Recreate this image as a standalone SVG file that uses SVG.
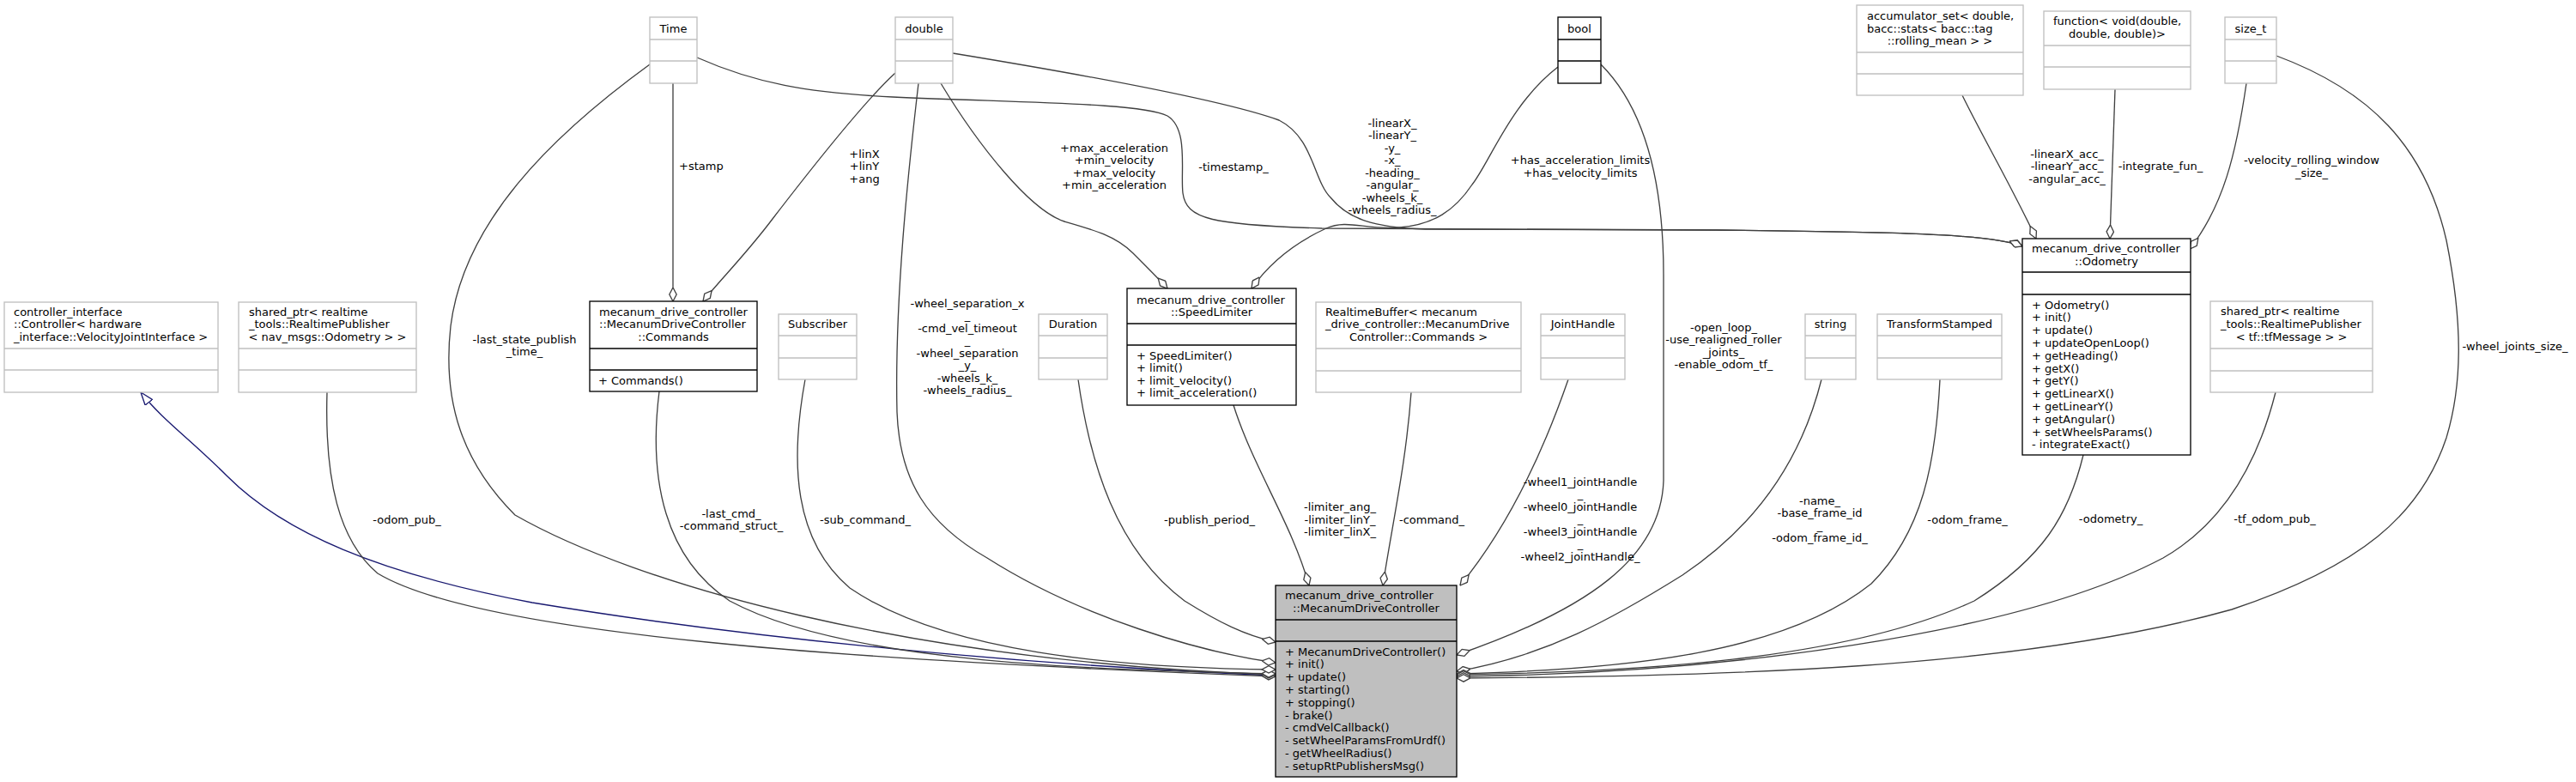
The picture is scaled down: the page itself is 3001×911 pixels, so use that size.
<svg xmlns="http://www.w3.org/2000/svg" width="3001" height="911" viewBox="0 0 3001 911">
<style>
text{font-family:"DejaVu Sans","Liberation Sans",sans-serif;font-size:13px;fill:#000}
.m{text-anchor:middle}
.g{fill:#fff;stroke:#bfbfbf;stroke-width:1.33}
.b{fill:#fff;stroke:#000;stroke-width:1.33}
.mn{fill:#bfbfbf;stroke:#000;stroke-width:1.33}
.lg{stroke:#bfbfbf;stroke-width:1.33}
.lb{stroke:#000;stroke-width:1.33}
.e{fill:none;stroke:#404040;stroke-width:1.33}
.i{fill:none;stroke:#191970;stroke-width:1.33}
</style>
<defs>
<marker id="dia" viewBox="0 0 17 10" refX="16.5" refY="5" markerWidth="17" markerHeight="10" markerUnits="userSpaceOnUse" orient="auto"><path d="M0.5,5 L8.5,0.8 L16.5,5 L8.5,9.2 Z" fill="#fff" stroke="#404040" stroke-width="1.33"/></marker>
<marker id="tri" viewBox="0 0 16 12" refX="15.5" refY="6" markerWidth="16" markerHeight="12" markerUnits="userSpaceOnUse" orient="auto"><path d="M0.5,0.7 L15.5,6 L0.5,11.3 Z" fill="#fff" stroke="#191970" stroke-width="1.33"/></marker>
</defs>
<rect width="3001" height="911" fill="#fff"/>

<g id="connectors">
<path class="i" marker-end="url(#tri)" d="M1486,787 C1200,775 880,745 620,702 C440,668 330,620 265,555 C220,510 190,490 164,457"/>
<path class="e" marker-end="url(#dia)" d="M381,457 C378,560 395,630 440,668 C560,740 1000,770 1486,788"/>
<path class="e" marker-end="url(#dia)" d="M757,75 C640,160 540,260 525,380 C515,470 540,540 600,600 C740,680 1050,770 1486,786"/>
<path class="e" marker-end="url(#dia)" d="M784,97 L784,351"/>
<path class="e" marker-end="url(#dia)" d="M812,67 C880,97 940,108 1040,113 C1200,120 1330,120 1360,135 C1385,150 1375,200 1378,225 C1382,255 1410,262 1540,266 L2000,268 C2200,270 2320,272 2356,287"/>
<path class="e" marker-end="url(#dia)" d="M1043,85 C1010,115 950,190 900,255 C870,295 840,325 819,351"/>
<path class="e" marker-end="url(#dia)" d="M1070,97 C1058,200 1042,350 1045,480 C1048,560 1080,610 1150,650 C1260,720 1400,760 1486,772"/>
<path class="e" marker-end="url(#dia)" d="M1096,97 C1140,170 1200,245 1240,258 C1275,268 1300,275 1320,295 C1340,315 1350,325 1360,336"/>
<path class="e" marker-end="url(#dia)" d="M1110,62 C1250,85 1420,115 1490,140 C1530,160 1530,210 1550,230 C1570,255 1600,265 1660,267 L2000,268 C2200,270 2320,272 2356,287"/>
<path class="e" marker-end="url(#dia)" d="M1815,78 C1760,120 1735,190 1715,215 C1695,245 1670,262 1630,265 C1590,268 1570,255 1545,266 C1510,282 1480,305 1458,336"/>
<path class="e" marker-end="url(#dia)" d="M1865,75 C1920,130 1938,220 1938,320 L1938,560 C1935,650 1850,710 1697,763"/>
<path class="e" marker-end="url(#dia)" d="M768,456 C755,560 775,650 850,700 C980,770 1250,780 1486,785"/>
<path class="e" marker-end="url(#dia)" d="M938,442 C920,540 925,630 990,685 C1100,760 1300,778 1486,780"/>
<path class="e" marker-end="url(#dia)" d="M1256,442 C1270,540 1300,640 1380,700 C1420,725 1450,740 1486,748"/>
<path class="e" marker-end="url(#dia)" d="M1437,472 C1460,545 1505,610 1525,682"/>
<path class="e" marker-end="url(#dia)" d="M1644,457 C1638,540 1622,610 1611,682"/>
<path class="e" marker-end="url(#dia)" d="M1827,442 C1800,520 1760,610 1701,682"/>
<path class="e" marker-end="url(#dia)" d="M2122,442 C2100,530 2050,610 1960,670 C1880,720 1800,765 1697,782"/>
<path class="e" marker-end="url(#dia)" d="M2260,442 C2255,540 2240,620 2180,680 C2080,760 1900,780 1697,785"/>
<path class="e" marker-end="url(#dia)" d="M2427,530 C2410,600 2380,650 2300,700 C2150,770 1900,783 1697,786"/>
<path class="e" marker-end="url(#dia)" d="M2651,457 C2630,540 2590,610 2520,650 C2350,740 2000,785 1697,788"/>
<path class="e" marker-end="url(#dia)" d="M2652,65 C2760,105 2825,170 2850,280 C2870,380 2868,450 2850,510 C2820,600 2750,660 2600,710 C2350,780 2000,788 1697,790"/>
<path class="e" marker-end="url(#dia)" d="M2617,97 C2605,180 2590,240 2551,290"/>
<path class="e" marker-end="url(#dia)" d="M2286,111 C2310,160 2345,220 2372,278"/>
<path class="e" marker-end="url(#dia)" d="M2464,104 L2458,278"/>

<text x="791" y="197.5">+stamp</text>
<text class="m" x="1007" y="183.5">+linX</text>
<text class="m" x="1007" y="198">+linY</text>
<text class="m" x="1007" y="212.5">+ang</text>
<text class="m" x="1298" y="176.5">+max_acceleration</text>
<text class="m" x="1298" y="191">+min_velocity</text>
<text class="m" x="1298" y="205.5">+max_velocity</text>
<text class="m" x="1298" y="220">+min_acceleration</text>
<text class="m" x="1437" y="198.5">-timestamp_</text>
<text class="m" x="1622" y="147.5">-linearX_</text>
<text class="m" x="1622" y="162">-linearY_</text>
<text class="m" x="1622" y="176.5">-y_</text>
<text class="m" x="1622" y="191">-x_</text>
<text class="m" x="1622" y="205.5">-heading_</text>
<text class="m" x="1622" y="220">-angular_</text>
<text class="m" x="1622" y="234.5">-wheels_k_</text>
<text class="m" x="1622" y="249">-wheels_radius_</text>
<text class="m" x="1841" y="191">+has_acceleration_limits</text>
<text class="m" x="1841" y="205.5">+has_velocity_limits</text>
<text class="m" x="2408" y="183.5">-linearX_acc_</text>
<text class="m" x="2408" y="198">-linearY_acc_</text>
<text class="m" x="2408" y="212.5">-angular_acc_</text>
<text class="m" x="2517" y="198">-integrate_fun_</text>
<text class="m" x="2693" y="191">-velocity_rolling_window</text>
<text class="m" x="2693" y="205.5">_size_</text>
<text class="m" x="611" y="399.5">-last_state_publish</text>
<text class="m" x="611" y="414">_time_</text>
<text class="m" x="1127" y="357.5">-wheel_separation_x</text>
<text class="m" x="1127" y="372">_</text>
<text class="m" x="1127" y="386.5">-cmd_vel_timeout</text>
<text class="m" x="1127" y="401">_</text>
<text class="m" x="1127" y="415.5">-wheel_separation</text>
<text class="m" x="1127" y="430">_y_</text>
<text class="m" x="1127" y="444.5">-wheels_k_</text>
<text class="m" x="1127" y="459">-wheels_radius_</text>
<text class="m" x="2008" y="385.5">-open_loop_</text>
<text class="m" x="2008" y="400">-use_realigned_roller</text>
<text class="m" x="2008" y="414.5">_joints_</text>
<text class="m" x="2008" y="429">-enable_odom_tf_</text>
<text class="m" x="2930" y="407.5">-wheel_joints_size_</text>
<text class="m" x="474" y="609.5">-odom_pub_</text>
<text class="m" x="852" y="602.5">-last_cmd_</text>
<text class="m" x="852" y="617">-command_struct_</text>
<text class="m" x="1008" y="609.5">-sub_command_</text>
<text class="m" x="1409" y="609.5">-publish_period_</text>
<text class="m" x="1561" y="595">-limiter_ang_</text>
<text class="m" x="1561" y="609.5">-limiter_linY_</text>
<text class="m" x="1561" y="624">-limiter_linX_</text>
<text class="m" x="1668" y="609.5">-command_</text>
<text class="m" x="1841" y="565.5">-wheel1_jointHandle</text>
<text class="m" x="1841" y="580">_</text>
<text class="m" x="1841" y="594.5">-wheel0_jointHandle</text>
<text class="m" x="1841" y="609">_</text>
<text class="m" x="1841" y="623.5">-wheel3_jointHandle</text>
<text class="m" x="1841" y="638">_</text>
<text class="m" x="1841" y="652.5">-wheel2_jointHandle_</text>
<text class="m" x="2120" y="587.5">-name_</text>
<text class="m" x="2120" y="602">-base_frame_id</text>
<text class="m" x="2120" y="616.5">_</text>
<text class="m" x="2120" y="631">-odom_frame_id_</text>
<text class="m" x="2292" y="609.5">-odom_frame_</text>
<text class="m" x="2459" y="609">-odometry_</text>
<text class="m" x="2650" y="609">-tf_odom_pub_</text>
</g>

<g id="node_main">
<rect class="mn" x="1486" y="682" width="211" height="223"/>
<line class="lb" x1="1486" y1="722" x2="1697" y2="722"/>
<line class="lb" x1="1486" y1="747" x2="1697" y2="747"/>
<text x="1497" y="697.5">mecanum_drive_controller</text>
<text class="m" x="1591.5" y="712.5">::MecanumDriveController</text>
<text x="1497" y="763.5">+ MecanumDriveController()</text>
<text x="1497" y="778.3">+ init()</text>
<text x="1497" y="793.1">+ update()</text>
<text x="1497" y="807.9">+ starting()</text>
<text x="1497" y="822.7">+ stopping()</text>
<text x="1497" y="837.5">- brake()</text>
<text x="1497" y="852.3">- cmdVelCallback()</text>
<text x="1497" y="867.1">- setWheelParamsFromUrdf()</text>
<text x="1497" y="881.9">- getWheelRadius()</text>
<text x="1497" y="896.7">- setupRtPublishersMsg()</text>
</g>

<g id="node_controller_interface">
<rect class="g" x="5" y="352" width="249" height="105"/>
<line class="lg" x1="5" y1="406" x2="254" y2="406"/>
<line class="lg" x1="5" y1="431" x2="254" y2="431"/>
<text x="16" y="367.5">controller_interface</text>
<text x="16" y="382">::Controller&lt; hardware</text>
<text x="16" y="396.5">_interface::VelocityJointInterface &gt;</text>
</g>

<g id="node_odom_pub">
<rect class="g" x="278" y="352" width="207" height="105"/>
<line class="lg" x1="278" y1="406" x2="485" y2="406"/>
<line class="lg" x1="278" y1="431" x2="485" y2="431"/>
<text x="290" y="367.5">shared_ptr&lt; realtime</text>
<text x="290" y="382">_tools::RealtimePublisher</text>
<text class="m" x="381.5" y="396.5">&lt; nav_msgs::Odometry &gt; &gt;</text>
</g>

<g id="node_time">
<rect class="g" x="757" y="20" width="55" height="77"/>
<line class="lg" x1="757" y1="46" x2="812" y2="46"/>
<line class="lg" x1="757" y1="71" x2="812" y2="71"/>
<text class="m" x="784.5" y="37.5">Time</text>
</g>

<g id="node_double">
<rect class="g" x="1043" y="20" width="67" height="77"/>
<line class="lg" x1="1043" y1="46" x2="1110" y2="46"/>
<line class="lg" x1="1043" y1="71" x2="1110" y2="71"/>
<text class="m" x="1076.5" y="37.5">double</text>
</g>

<g id="node_bool">
<rect class="b" x="1815" y="20" width="50" height="77"/>
<line class="lb" x1="1815" y1="46" x2="1865" y2="46"/>
<line class="lb" x1="1815" y1="71" x2="1865" y2="71"/>
<text class="m" x="1840" y="37.5">bool</text>
</g>

<g id="node_accumulator_set">
<rect class="g" x="2163" y="6" width="194" height="105"/>
<line class="lg" x1="2163" y1="61" x2="2357" y2="61"/>
<line class="lg" x1="2163" y1="86" x2="2357" y2="86"/>
<text x="2175" y="22.5">accumulator_set&lt; double,</text>
<text x="2175" y="37.5">bacc::stats&lt; bacc::tag</text>
<text class="m" x="2260" y="51.5">::rolling_mean &gt; &gt;</text>
</g>

<g id="node_function">
<rect class="g" x="2381" y="13" width="171" height="91"/>
<line class="lg" x1="2381" y1="53" x2="2552" y2="53"/>
<line class="lg" x1="2381" y1="78" x2="2552" y2="78"/>
<text x="2392" y="28.5">function&lt; void(double,</text>
<text class="m" x="2466.5" y="43.5">double, double)&gt;</text>
</g>

<g id="node_size_t">
<rect class="g" x="2592" y="20" width="60" height="77"/>
<line class="lg" x1="2592" y1="46" x2="2652" y2="46"/>
<line class="lg" x1="2592" y1="71" x2="2652" y2="71"/>
<text class="m" x="2622" y="37.5">size_t</text>
</g>

<g id="node_commands">
<rect class="b" x="687" y="351" width="195" height="105"/>
<line class="lb" x1="687" y1="406" x2="882" y2="406"/>
<line class="lb" x1="687" y1="431" x2="882" y2="431"/>
<text x="698" y="367.5">mecanum_drive_controller</text>
<text x="698" y="382">::MecanumDriveController</text>
<text class="m" x="784.5" y="397">::Commands</text>
<text x="697" y="447.5">+ Commands()</text>
</g>

<g id="node_subscriber">
<rect class="g" x="907" y="366" width="91" height="76"/>
<line class="lg" x1="907" y1="391" x2="998" y2="391"/>
<line class="lg" x1="907" y1="417" x2="998" y2="417"/>
<text class="m" x="952.5" y="382">Subscriber</text>
</g>

<g id="node_duration">
<rect class="g" x="1210" y="366" width="80" height="76"/>
<line class="lg" x1="1210" y1="391" x2="1290" y2="391"/>
<line class="lg" x1="1210" y1="417" x2="1290" y2="417"/>
<text class="m" x="1250" y="382">Duration</text>
</g>

<g id="node_speedlimiter">
<rect class="b" x="1313" y="336" width="197" height="136"/>
<line class="lb" x1="1313" y1="377" x2="1510" y2="377"/>
<line class="lb" x1="1313" y1="402" x2="1510" y2="402"/>
<text x="1324" y="353.5">mecanum_drive_controller</text>
<text class="m" x="1411.5" y="368">::SpeedLimiter</text>
<text x="1324" y="418.5">+ SpeedLimiter()</text>
<text x="1324" y="433">+ limit()</text>
<text x="1324" y="447.5">+ limit_velocity()</text>
<text x="1324" y="462">+ limit_acceleration()</text>
</g>

<g id="node_realtimebuffer">
<rect class="g" x="1533" y="352" width="239" height="105"/>
<line class="lg" x1="1533" y1="406" x2="1772" y2="406"/>
<line class="lg" x1="1533" y1="432" x2="1772" y2="432"/>
<text x="1544" y="367.5">RealtimeBuffer&lt; mecanum</text>
<text x="1544" y="382">_drive_controller::MecanumDrive</text>
<text class="m" x="1652.5" y="396.5">Controller::Commands &gt;</text>
</g>

<g id="node_jointhandle">
<rect class="g" x="1795" y="366" width="98" height="76"/>
<line class="lg" x1="1795" y1="391" x2="1893" y2="391"/>
<line class="lg" x1="1795" y1="417" x2="1893" y2="417"/>
<text class="m" x="1844" y="382">JointHandle</text>
</g>

<g id="node_string">
<rect class="g" x="2103" y="366" width="59" height="76"/>
<line class="lg" x1="2103" y1="391" x2="2162" y2="391"/>
<line class="lg" x1="2103" y1="417" x2="2162" y2="417"/>
<text class="m" x="2132.5" y="382">string</text>
</g>

<g id="node_transformstamped">
<rect class="g" x="2187" y="366" width="145" height="76"/>
<line class="lg" x1="2187" y1="391" x2="2332" y2="391"/>
<line class="lg" x1="2187" y1="417" x2="2332" y2="417"/>
<text class="m" x="2259.5" y="382">TransformStamped</text>
</g>

<g id="node_odometry">
<rect class="b" x="2356" y="278" width="196" height="252"/>
<line class="lb" x1="2356" y1="317" x2="2552" y2="317"/>
<line class="lb" x1="2356" y1="343" x2="2552" y2="343"/>
<text x="2367" y="294">mecanum_drive_controller</text>
<text class="m" x="2454" y="309">::Odometry</text>
<text x="2367" y="359.5">+ Odometry()</text>
<text x="2367" y="374.3">+ init()</text>
<text x="2367" y="389.1">+ update()</text>
<text x="2367" y="403.9">+ updateOpenLoop()</text>
<text x="2367" y="418.7">+ getHeading()</text>
<text x="2367" y="433.5">+ getX()</text>
<text x="2367" y="448.3">+ getY()</text>
<text x="2367" y="463.1">+ getLinearX()</text>
<text x="2367" y="477.9">+ getLinearY()</text>
<text x="2367" y="492.7">+ getAngular()</text>
<text x="2367" y="507.5">+ setWheelsParams()</text>
<text x="2367" y="522.3">- integrateExact()</text>
</g>

<g id="node_tf_odom_pub">
<rect class="g" x="2575" y="351" width="189" height="106"/>
<line class="lg" x1="2575" y1="406" x2="2764" y2="406"/>
<line class="lg" x1="2575" y1="432" x2="2764" y2="432"/>
<text x="2587" y="367">shared_ptr&lt; realtime</text>
<text x="2587" y="382">_tools::RealtimePublisher</text>
<text class="m" x="2669.5" y="396.5">&lt; tf::tfMessage &gt; &gt;</text>
</g>
</svg>
